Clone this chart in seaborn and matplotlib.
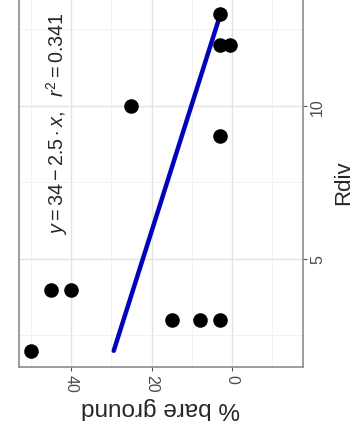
import numpy as np
import pandas as pd
import matplotlib
matplotlib.use("Agg")
import matplotlib.pyplot as plt
from matplotlib.ticker import MultipleLocator
import seaborn as sns

# data
bare_ground = [50, 45, 40, 15, 8, 3, 3, 25, 3, 0.5, 3]
rdiv = [2, 4, 4, 3, 3, 3, 9, 10, 12, 12, 13]
eq_label = r"$y = 34 - 2.5 \cdot x,\ \ r^2 = 0.341$"

df = pd.DataFrame({"bare": bare_ground, "Rdiv": rdiv})

sns.set_theme(style="whitegrid")
plt.rcParams['font.family'] = ['Liberation Sans', 'DejaVu Sans']
plt.rcParams['mathtext.fontset'] = 'custom'
plt.rcParams['mathtext.rm'] = 'Liberation Sans'
plt.rcParams['mathtext.it'] = 'Liberation Sans:italic'

fig = plt.figure(figsize=(3.56, 4.35), dpi=100)
ax = fig.add_axes([0.0534, 0.154, 0.7976, 0.851])

# regression of % bare ground on Rdiv, drawn with bare ground on the x axis
slope, intercept = np.polyfit(df["Rdiv"], df["bare"], 1)
r_ends = np.array([df["Rdiv"].min(), df["Rdiv"].max()])
line = pd.DataFrame({"Rdiv": r_ends, "bare": intercept + slope * r_ends})
sns.lineplot(data=line, x="bare", y="Rdiv", color="#0000CC", linewidth=3.2,
             sort=False, ax=ax)

sns.scatterplot(data=df, x="bare", y="Rdiv", color="black", s=110,
                linewidth=0, ax=ax, zorder=3)

ax.text(43.4, 5.8, eq_label, rotation=90, ha="center", va="bottom",
        fontsize=14.2, color="#262626")

ax.set_xlim(52.9, -17.6)
ax.set_ylim(1.47, 13.56)

ax.xaxis.set_major_locator(MultipleLocator(20))
ax.xaxis.set_minor_locator(MultipleLocator(10))
ax.yaxis.set_major_locator(MultipleLocator(5))
ax.yaxis.set_minor_locator(MultipleLocator(2.5))
ax.grid(which="major", color="#E3E3E3", linewidth=1.0)
ax.grid(which="minor", color="#F0F0F0", linewidth=0.6)
ax.set_axisbelow(True)

ax.yaxis.tick_right()
ax.yaxis.set_label_position("right")
ax.tick_params(axis="both", which="major", length=3, width=0.8, color="#555555",
               labelsize=11.5, labelcolor="#4D4D4D", direction="out")
ax.tick_params(axis="both", which="minor", length=0)
ax.tick_params(axis="x", bottom=True, labelrotation=270, pad=2)
ax.tick_params(axis="y", right=True, left=False, labelrotation=90, pad=2)
for lab in ax.get_yticklabels():
    lab.set_va("center")

ax.set_xlabel("% bare ground", fontsize=17.5, rotation=180, labelpad=3)
ax.set_ylabel("Rdiv", fontsize=16, rotation=90, labelpad=6)

for s in ax.spines.values():
    s.set_color("#8C8C8C")
    s.set_linewidth(1.2)

fig.savefig("out.png", dpi=100)
